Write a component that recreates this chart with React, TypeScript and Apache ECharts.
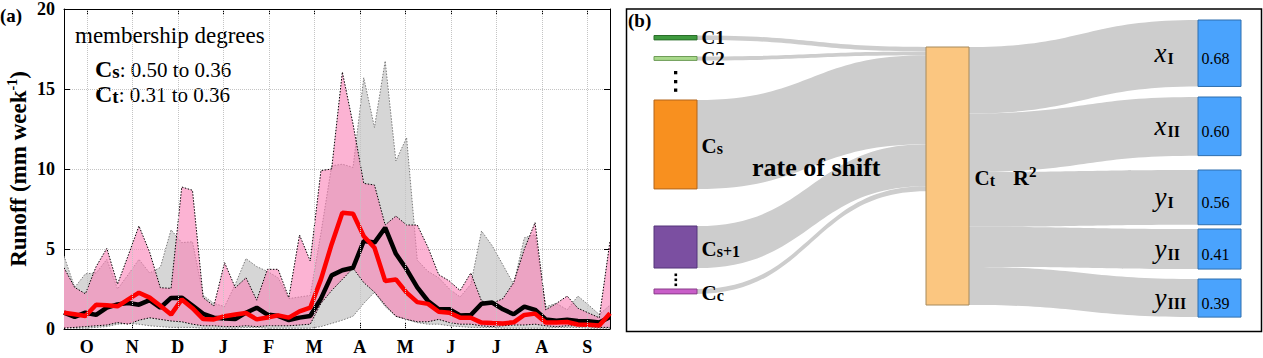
import React, { useEffect, useRef } from 'react';
import * as echarts from 'echarts';

// ---------------- data (left panel) ----------------
const months = ['O', 'N', 'D', 'J', 'F', 'M', 'A', 'M', 'J', 'J', 'A', 'S'];
const yTicks = [0, 5, 10, 15, 20];

const blackLine = [1.02, 0.76, 1.02, 0.88, 1.33, 1.54, 1.62, 1.52, 1.8, 1.33, 1.94, 1.96, 1.47, 0.95, 0.71, 0.66, 0.62, 1.02, 1.33, 0.9, 0.82, 0.56, 0.71, 0.81, 1.9, 3.35, 3.67, 3.83, 5.5, 5.4, 6.33, 4.7, 3.73, 2.6, 1.75, 1.23, 1.23, 0.85, 0.87, 1.58, 1.65, 1.23, 0.92, 1.4, 1.2, 0.6, 0.52, 0.58, 0.5, 0.48, 0.4, 0.75];
const redLine = [1.02, 0.92, 0.81, 1.52, 1.48, 1.42, 1.85, 2.27, 1.96, 1.45, 0.9, 1.85, 1.3, 0.62, 0.6, 0.8, 0.9, 1.0, 0.6, 0.72, 0.85, 0.71, 1.1, 1.33, 3.1, 5.3, 7.27, 7.2, 5.8, 5.08, 3.0, 3.1, 2.27, 1.68, 1.57, 1.08, 1.02, 0.71, 0.7, 0.4, 0.37, 0.35, 0.42, 0.88, 0.96, 0.4, 0.4, 0.44, 0.28, 0.26, 0.22, 0.98];
const grayUpper = [4.56, 2.6, 3.45, 3.5, 4.35, 2.5, 3.4, 4.35, 3.5, 3.85, 6.2, 5.4, 5.45, 2.1, 1.6, 1.4, 2.8, 4.4, 3.9, 3.6, 3.2, 1.9, 2.0, 2.1, 6.0, 10.2, 10.3, 10.1, 15.7, 12.6, 16.75, 10.5, 11.96, 4.3, 3.6, 3.2, 2.5, 2.0, 2.8, 6.125, 5.2, 4.0, 2.8, 5.7, 5.9, 1.4, 1.6, 1.2, 2.06, 1.5, 0.9, 1.5];
const grayLower = [0.1, 0.05, 0.05, 0.1, 0.15, 0.3, 0.35, 0.3, 0.2, 0.15, 0.1, 0.1, 0.1, 0.05, 0.05, 0.05, 0.05, 0.1, 0.1, 0.05, 0.05, 0.05, 0.05, 0.05, 0.15, 0.35, 0.55, 0.8, 1.6, 2.3, 1.4, 0.8, 0.6, 0.4, 0.3, 0.3, 0.2, 0.15, 0.1, 0.1, 0.1, 0.05, 0.05, 0.05, 0.05, 0.05, 0.1, 0.1, 0.1, 0.05, 0.05, 0.05];
const pinkUpper = [3.83, 2.6, 2.2, 3.9, 5.04, 2.8, 4.6, 6.44, 4.8, 2.58, 2.54, 8.875, 8.67, 1.96, 1.44, 4.15, 2.58, 3.2, 1.8, 3.73, 3.73, 1.96, 5.875, 4.25, 9.9, 10.0, 16.06, 12.8, 9.1, 9.0, 6.5, 7.06, 6.5, 6.5, 5.1, 3.4, 3.0, 2.4, 3.5, 1.75, 1.6, 1.9, 2.9, 5.0, 6.65, 1.2, 1.6, 2.06, 1.3, 1.0, 0.7, 5.5];
const pinkLower = [0.05, 0.1, 0.15, 0.2, 0.25, 0.4, 0.3, 0.55, 0.7, 0.6, 0.5, 0.45, 0.3, 0.2, 0.2, 0.15, 0.15, 0.2, 0.15, 0.2, 0.2, 0.2, 0.25, 0.3, 1.6, 2.4, 3.1, 3.8, 2.9, 2.3, 1.5, 0.8, 0.6, 0.45, 0.45, 0.6, 0.4, 0.3, 0.3, 0.2, 0.15, 0.2, 0.25, 0.25, 0.3, 0.2, 0.15, 0.2, 0.2, 0.15, 0.1, 0.1];

// ---------------- data (right panel) ----------------
const leftNodes = ['C1', 'C2', 'Cs', 'Cs+1', 'Cc'];
const leftFlows = [0.045, 0.04, 0.91, 0.43, 0.05];
const centerNode = 'Ct';
const rightNodes = ['xI', 'xII', 'yI', 'yII', 'yIII'];
const rightR2 = [0.68, 0.6, 0.56, 0.41, 0.39];

const FONT = 'Liberation Serif';

// x in "months" units: 0 = start of October, 12 = end of September
const weekX = (i: number) => (i * months.length) / (blackLine.length - 1);
const toXY = (arr: number[]) => arr.map((v, i) => [weekX(i), v]);
const monthCenters = months.map((_, k) => k + 0.5);

// sankey layout rectangle and node placement (layout, not data)
const SK = { left: 654, top: 20, width: 587, height: 297 };
const nodeTopPx: Record<string, number> = {
  C1: 35.5, C2: 56.5, Cs: 100, 'Cs+1': 226, Cc: 289,
  Ct: 47,
  xI: 20, xII: 97, yI: 170, yII: 229, yIII: 279,
};
const nodeColors: Record<string, [string, string]> = {
  C1: ['#3f9a3f', '#2a6e2a'], C2: ['#a9d98b', '#6f9d58'], Cs: ['#f8901f', '#b3651a'],
  'Cs+1': ['#7b4fa1', '#55357a'], Cc: ['#c95ec9', '#8a3c8a'], Ct: ['#fbc680', '#a68a5c'],
};

const subRich = {
  k: { fontFamily: FONT, fontWeight: 'bold', fontSize: 19, color: '#000', lineHeight: 16 },
  c: { fontFamily: FONT, fontWeight: 'bold', fontSize: 21, color: '#000', lineHeight: 24, verticalAlign: 'bottom' },
  s: { fontFamily: FONT, fontWeight: 'bold', fontSize: 16, color: '#000', lineHeight: 10, verticalAlign: 'bottom' },
  g: { fontFamily: FONT, fontSize: 14, lineHeight: 24, width: 18, verticalAlign: 'bottom' },
  r: { fontFamily: FONT, fontWeight: 'bold', fontSize: 22, color: '#000', lineHeight: 24, verticalAlign: 'bottom' },
  p: { fontFamily: FONT, fontWeight: 'bold', fontSize: 15, color: '#000', lineHeight: 12, verticalAlign: 'top' },
};

function leftLabel(name: string) {
  if (name === 'C1' || name === 'C2') return `{k|${name}}`;
  return `{c|C}{s|${name.slice(1)}}`;
}

function bandSeries(upper: number[], lower: number[], fill: string, stroke: string, z: number) {
  return {
    type: 'custom',
    coordinateSystem: 'cartesian2d',
    xAxisIndex: 0,
    yAxisIndex: 0,
    data: [[weekX(0), lower[0]]],
    z,
    silent: true,
    clip: true,
    renderItem: (_params: any, api: any) => {
      const up = upper.map((v, i) => api.coord([weekX(i), v]));
      const lo = lower.map((v, i) => api.coord([weekX(i), v]));
      const dash = { stroke, lineWidth: 1, lineDash: [1.5, 1.5], fill: null };
      return {
        type: 'group',
        children: [
          { type: 'polygon', shape: { points: up.concat(lo.slice().reverse()) }, style: { fill } },
          { type: 'polyline', shape: { points: up }, style: dash },
          { type: 'polyline', shape: { points: lo }, style: dash },
        ],
      };
    },
  };
}

export default function App() {
  const ref = useRef<HTMLDivElement>(null);
  useEffect(() => {
    if (!ref.current) return;
    const chart = echarts.init(ref.current, undefined, { renderer: 'svg' });

    const nodes: any[] = [];
    leftNodes.forEach((n) => {
      nodes.push({
        name: n,
        localY: (nodeTopPx[n] - SK.top) / SK.height,
        itemStyle: { color: nodeColors[n][0], borderColor: nodeColors[n][1], borderWidth: 1 },
        label: { show: true, position: 'right', distance: 4, formatter: leftLabel(n), rich: subRich },
      });
    });
    nodes.push({
      name: centerNode,
      localY: (nodeTopPx[centerNode] - SK.top) / SK.height,
      itemStyle: { color: nodeColors.Ct[0], borderColor: nodeColors.Ct[1], borderWidth: 1 },
      label: { show: true, position: 'right', distance: 5, formatter: '{c|C}{s|t}{g| }{r|R}{p|2}', rich: subRich },
    });
    rightNodes.forEach((n, i) => {
      nodes.push({
        name: n,
        localY: (nodeTopPx[n] - SK.top) / SK.height,
        itemStyle: { color: '#4aa3fd', borderColor: '#2f6fae', borderWidth: 1 },
        label: {
          show: true,
          position: 'insideLeft',
          distance: 0,
          offset: [-43, 0],
          formatter: `{n|${n[0]}}{s|${n.slice(1)}}{v|${rightR2[i].toFixed(2)}}`,
          rich: {
            n: { fontFamily: FONT, fontStyle: 'italic', fontSize: 27, color: '#000', width: 13, lineHeight: 26, verticalAlign: 'bottom' },
            s: { fontFamily: FONT, fontWeight: 'bold', fontSize: 16, color: '#000', width: 30, lineHeight: 10, verticalAlign: 'bottom' },
            v: { fontFamily: FONT, fontSize: 16, color: '#000', padding: [0, 0, 0, 4], lineHeight: 26, verticalAlign: 'bottom' },
          },
        },
      });
    });
    const links: any[] = [];
    leftNodes.forEach((n, i) => links.push({ source: n, target: centerNode, value: leftFlows[i] }));
    rightNodes.forEach((n, i) => links.push({ source: centerNode, target: n, value: rightR2[i] }));

    const axisLbl = { fontFamily: FONT, fontWeight: 'bold', fontSize: 18, color: '#000' };
    const boxLine = { show: true, onZero: false, lineStyle: { color: '#000', width: 1 } };
    const tickIn = { show: true, inside: true, length: 6, lineStyle: { color: '#000', width: 1 } };
    const gridLine = { type: 'dotted', color: '#c4c4c4', width: 1 };

    const option: any = {
      animation: false,
      backgroundColor: '#fff',
      textStyle: { fontFamily: FONT },
      grid: { left: 64, right: 653, top: 8, bottom: 29, containLabel: false },
      xAxis: [
        {
          type: 'value', min: 0, max: months.length, position: 'bottom',
          axisLine: boxLine,
          axisTick: { ...tickIn, customValues: monthCenters },
          axisLabel: {
            ...axisLbl, margin: 9, customValues: monthCenters,
            formatter: (v: number) => months[Math.floor(v)] ?? '',
          },
          splitLine: { show: false },
        },
        {
          type: 'value', min: 0, max: months.length, position: 'top',
          axisLine: boxLine, axisTick: { ...tickIn, customValues: monthCenters },
          axisLabel: { show: false }, splitLine: { show: false },
        },
      ],
      yAxis: [
        {
          type: 'value', min: yTicks[0], max: yTicks[yTicks.length - 1], interval: yTicks[1] - yTicks[0], position: 'left',
          axisLine: boxLine, axisTick: tickIn,
          axisLabel: { ...axisLbl, margin: 9 },
          splitLine: { show: true, lineStyle: gridLine },
          name: '{a|Runoff (mm week}{b|-1}{a|)}',
          nameLocation: 'middle',
          nameGap: 34,
          nameTextStyle: {
            rich: {
              a: { fontFamily: FONT, fontWeight: 'bold', fontSize: 23, color: '#000', lineHeight: 25, verticalAlign: 'bottom' },
              b: { fontFamily: FONT, fontWeight: 'bold', fontSize: 14, color: '#000', lineHeight: 15, verticalAlign: 'top' },
            },
          },
        },
        {
          type: 'value', min: yTicks[0], max: yTicks[yTicks.length - 1], interval: yTicks[1] - yTicks[0], position: 'right',
          axisLine: boxLine, axisTick: tickIn, axisLabel: { show: false }, splitLine: { show: false },
        },
      ],
      series: [
        {
          type: 'line', name: 'monthGrid', data: [], z: 0, silent: true, symbol: 'none',
          markLine: {
            silent: true, symbol: ['none', 'none'], label: { show: false }, animation: false,
            lineStyle: { type: 'dotted', color: '#c4c4c4', width: 1 },
            emphasis: { disabled: true },
            data: monthCenters.map((v) => ({ xAxis: v })),
          },
        },
        bandSeries(grayUpper, grayLower, '#d6d6d6', '#7a7a7a', 1),
        bandSeries(pinkUpper, pinkLower, 'rgba(250,128,182,0.6)', '#000', 2),
        {
          type: 'line', name: 'black', data: toXY(blackLine), symbol: 'none', z: 3, silent: true,
          lineStyle: { color: '#000', width: 4.5 },
        },
        {
          type: 'line', name: 'red', data: toXY(redLine), symbol: 'none', z: 4, silent: true,
          lineStyle: { color: '#ff0000', width: 4.5 },
        },
        {
          type: 'sankey',
          left: SK.left, top: SK.top, width: SK.width, height: SK.height,
          nodeWidth: 43, nodeGap: 9.75, layoutIterations: 0, nodeAlign: 'justify',
          draggable: false, silent: true,
          emphasis: { disabled: true },
          lineStyle: { color: '#cdcdcd', opacity: 1, curveness: 0.5 },
          data: nodes,
          links,
        },
      ],
      graphic: [
        { type: 'text', x: 0, y: 15, style: { text: '(a)', font: `bold 19px "${FONT}"`, fill: '#000', verticalAlign: 'middle' } },
        { type: 'text', x: 75, y: 35, style: { text: 'membership degrees', font: `23px "${FONT}"`, fill: '#000', verticalAlign: 'middle' } },
        {
          type: 'text', x: 95, y: 67.5,
          style: {
            text: '{C|C}{s|s}{n|: 0.50 to 0.36}', verticalAlign: 'middle',
            rich: {
              C: { fontFamily: FONT, fontWeight: 'bold', fontSize: 24, fill: '#000', lineHeight: 26, verticalAlign: 'bottom' },
              s: { fontFamily: FONT, fontWeight: 'bold', fontSize: 19, fill: '#000', lineHeight: 10, verticalAlign: 'bottom' },
              n: { fontFamily: FONT, fontSize: 21, fill: '#000', lineHeight: 26, verticalAlign: 'bottom' },
            },
          },
        },
        {
          type: 'text', x: 95, y: 92.5,
          style: {
            text: '{C|C}{s|t}{n|: 0.31 to 0.36}', verticalAlign: 'middle',
            rich: {
              C: { fontFamily: FONT, fontWeight: 'bold', fontSize: 24, fill: '#000', lineHeight: 26, verticalAlign: 'bottom' },
              s: { fontFamily: FONT, fontWeight: 'bold', fontSize: 19, fill: '#000', lineHeight: 10, verticalAlign: 'bottom' },
              n: { fontFamily: FONT, fontSize: 21, fill: '#000', lineHeight: 26, verticalAlign: 'bottom' },
            },
          },
        },
        { type: 'rect', shape: { x: 626.5, y: 9, width: 635, height: 322.5 }, style: { fill: 'none', stroke: '#000', lineWidth: 1.5 }, z: 0 },
        { type: 'text', x: 628, y: 20, style: { text: '(b)', font: `bold 19px "${FONT}"`, fill: '#000', verticalAlign: 'middle' } },
        { type: 'text', x: 752, y: 167, style: { text: 'rate of shift', font: `bold 26px "${FONT}"`, fill: '#000', verticalAlign: 'middle' }, z: 10 },
        { type: 'rect', shape: { x: 674, y: 71, width: 3.3, height: 3.3 }, style: { fill: '#000' } },
        { type: 'rect', shape: { x: 674, y: 80, width: 3.3, height: 3.3 }, style: { fill: '#000' } },
        { type: 'rect', shape: { x: 674, y: 88.5, width: 3.3, height: 3.3 }, style: { fill: '#000' } },
        { type: 'rect', shape: { x: 674.5, y: 273.5, width: 2.6, height: 2.6 }, style: { fill: '#000' } },
        { type: 'rect', shape: { x: 674.5, y: 278.5, width: 2.6, height: 2.6 }, style: { fill: '#000' } },
        { type: 'rect', shape: { x: 674.5, y: 283.5, width: 2.6, height: 2.6 }, style: { fill: '#000' } },
      ],
    };

    chart.setOption(option);
    return () => chart.dispose();
  }, []);

  return <div ref={ref} style={{ position: 'fixed', left: 0, top: 0, width: 1263, height: 358, background: '#fff' }} />;
}
